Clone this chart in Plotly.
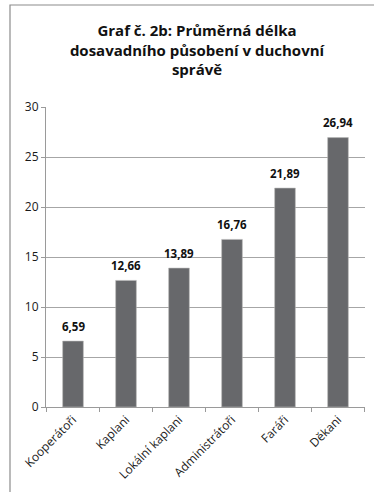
import plotly.graph_objects as go

# Average length of service in pastoral administration (years)
categories = ["Kooperátoři", "Kaplani", "Lokální kaplani", "Administrátoři", "Faráři", "Děkani"]
values = [6.59, 12.66, 13.89, 16.76, 21.89, 26.94]
y_ticks = [0, 5, 10, 15, 20, 25, 30]

W, H = 375, 492
L, R, T, B = 46, 10, 107, 85

labels = [f"{v:.2f}".replace(".", ",") for v in values]

fig = go.Figure(
    go.Bar(
        x=categories,
        y=values,
        marker=dict(color="#67686b", line=dict(color="#b8b8b8", width=0.6)),
        width=0.39,
        hoverinfo="x+y",
    )
)

# value labels above each bar
for cat, val, lab in zip(categories, values, labels):
    fig.add_annotation(
        x=cat,
        y=val,
        text=f"<b>{lab}</b>",
        showarrow=False,
        yanchor="middle",
        yshift=15,
        font=dict(family="Open Sans, Arial, sans-serif", size=11.5, color="#111111"),
    )

fig.update_layout(
    width=W,
    height=H,
    margin=dict(l=L, r=R, t=T, b=B),
    paper_bgcolor="white",
    plot_bgcolor="white",
    showlegend=False,
    title=dict(
        text="<b>Graf č. 2b: Průměrná délka<br>dosavadního působení v duchovní<br>správě</b>",
        x=197 / W,
        xanchor="center",
        y=1 - 36 / H,
        yanchor="middle",
        font=dict(family="Open Sans, Arial, sans-serif", size=15, color="#111111"),
    ),
    font=dict(family="Open Sans, Arial, sans-serif", color="#333333"),
    xaxis=dict(
        tickangle=-45,
        tickfont=dict(size=12, color="#1a1a1a"),
        showline=True,
        linecolor="#9a9a9a",
        linewidth=1,
        ticks="",
        showgrid=False,
    ),
    yaxis=dict(
        range=[0, 30],
        tickvals=y_ticks,
        tickfont=dict(size=12, color="#1a1a1a"),
        showgrid=True,
        gridcolor="#a6a6a6",
        gridwidth=1,
        showline=True,
        linecolor="#9a9a9a",
        linewidth=1,
        ticks="outside",
        ticklen=4,
        tickcolor="#9a9a9a",
        zeroline=False,
    ),
    bargap=0.61,
)

# category boundary tick marks below the x axis
for i in range(len(categories) + 1):
    fig.add_shape(
        type="line",
        xref="x",
        yref="paper",
        x0=i - 0.5,
        x1=i - 0.5,
        y0=0,
        y1=-5 / (H - T - B),
        line=dict(color="#9a9a9a", width=1),
    )

# outer chart frame (left and top edges)
plot_w = W - L - R
plot_h = H - T - B
fx0 = (10 - L) / plot_w
fx1 = (374 - L) / plot_w
fy_top = (H - 5 - B) / plot_h
fy_bot = -(B + 10) / plot_h
fig.add_shape(
    type="path",
    xref="paper",
    yref="paper",
    path=f"M {fx0} {fy_bot} L {fx0} {fy_top} L {fx1} {fy_top}",
    line=dict(color="#8c8c8c", width=1.2),
)

fig.write_html("out.html")
